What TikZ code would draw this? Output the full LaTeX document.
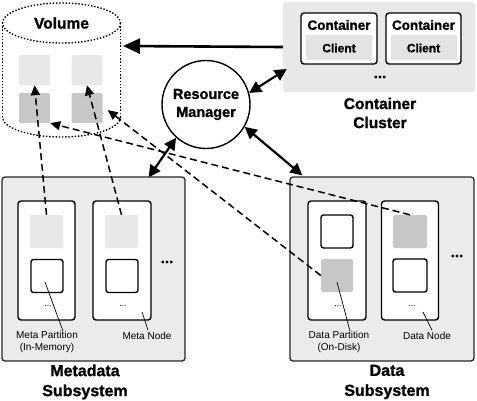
\documentclass[tikz,border=0pt]{standalone}
\usepackage{fontspec}
\setmainfont{Liberation Sans}[BoldFeatures={FakeBold=1.2}]
\usetikzlibrary{arrows.meta}
\begin{document}
\begin{tikzpicture}[x=1pt,y=-1pt,
  panel/.style={fill=black!8, draw=black!85, rounded corners=3pt, line width=1.3pt, inner sep=0pt},
  clusterbox/.style={fill=black!9, rounded corners=3pt, inner sep=0pt},
  nodebox/.style={fill=white, draw=black, rounded corners=3pt, line width=1.4pt, inner sep=0pt},
  lightsq/.style={fill=black!9, rounded corners=1.5pt, inner sep=0pt, minimum width=33pt, minimum height=33pt},
  darksq/.style={fill=black!22, rounded corners=1.5pt, inner sep=0pt, minimum width=32pt, minimum height=33pt},
  outsq/.style={fill=white, draw=black, rounded corners=2.5pt, line width=1.4pt, inner sep=0pt, minimum width=32pt, minimum height=33pt},
  volsq/.style={rounded corners=1.5pt, inner sep=0pt, minimum width=31pt, minimum height=30pt},
  dotline/.style={line width=1.4pt, dash pattern=on 1.4pt off 1.8pt},
  dasharrow/.style={line width=1.5pt, dash pattern=on 7pt off 4pt, -{Triangle[length=10pt,width=9pt]}},
  dblarrow/.style={line width=2.2pt, {Triangle[length=12pt,width=12pt]}-{Triangle[length=12pt,width=12pt]}},
  bigarrow/.style={line width=2.6pt, -{Triangle[length=17pt,width=15pt]}},
  leader/.style={line width=0.7pt},
  txt/.style={inner sep=0pt, align=center},
  bigtxt/.style={txt, font=\fontsize{15.5}{19}\selectfont\bfseries},
  subtxt/.style={txt, font=\fontsize{16}{20}\selectfont\bfseries},
  smalltxt/.style={txt, font=\fontsize{10}{12}\selectfont},
  tinydots/.style={txt, font=\fontsize{8.5}{9}\selectfont},
  bigdots/.style={txt, font=\fontsize{15}{15}\selectfont\bfseries}
]
\useasboundingbox (0,0) rectangle (477,400);

% ---------------- Volume cylinder ----------------
\draw[dotline] (61.5,23) ellipse [x radius=59, y radius=20];
\draw[dotline] (2.5,23) -- (2.5,117);
\draw[dotline] (120.5,23) -- (120.5,117);
\begin{scope}
  \clip (-5,117) rectangle (130,145);
  \draw[dotline] (61.5,117) ellipse [x radius=59, y radius=20];
\end{scope}
\node[bigtxt] (vol) at (61.5,23) {Volume};
\coordinate (volR) at (123,46);
\node[volsq, fill=black!9] (vl1) at (34.5,70) {};
\node[volsq, fill=black!9] (vl2) at (87,70) {};
\node[volsq, fill=black!22] (vd1) at (34.5,108) {};
\node[volsq, fill=black!22] (vd2) at (87,108) {};

% ---------------- Container cluster ----------------
\node[clusterbox, minimum width=192pt, minimum height=90pt] (cluster) at (379,47) {};
\node[nodebox, minimum width=76pt, minimum height=51pt] (cont1) at (339,38.5) {};
\node[nodebox, minimum width=75pt, minimum height=51pt] (cont2) at (423.5,38.5) {};
\node[fill=black!11, inner sep=0pt, minimum width=66pt, minimum height=25pt] (client1) at (339,47.5) {};
\node[fill=black!11, inner sep=0pt, minimum width=66pt, minimum height=25pt] (client2) at (423.5,47.5) {};
\node[txt, font=\fontsize{13.5}{13}\selectfont\bfseries] (ct1) at (339,25) {Container};
\node[txt, font=\fontsize{13.5}{13}\selectfont\bfseries] (ct2) at (423.5,25) {Container};
\node[txt, font=\fontsize{12}{12}\selectfont\bfseries] (cl1) at (339,48) {Client};
\node[txt, font=\fontsize{12}{12}\selectfont\bfseries] (cl2) at (423.5,48) {Client};
\node[bigdots] (cdots) at (380,77) {...};
\node[bigtxt] (clusterlbl) at (380,113) {Container\\Cluster};

% ---------------- Resource manager ----------------
\node[circle, draw=black, line width=1.4pt, fill=white, minimum size=88pt, inner sep=0pt,
      align=center, font=\fontsize{14.5}{18}\selectfont\bfseries] (rm) at (206,104.5) {Resource\\Manager};

% ---------------- Metadata subsystem ----------------
\node[panel, minimum width=183pt, minimum height=184pt] (meta) at (93.5,269) {};
\node[nodebox, minimum width=57pt, minimum height=119pt] (mnode1) at (46.5,260.5) {};
\node[nodebox, minimum width=58pt, minimum height=119pt] (mnode2) at (122,260.5) {};
\node[lightsq] (ml1) at (46.5,231.5) {};
\node[lightsq] (ml2) at (121.5,231.5) {};
\node[outsq] (mo1) at (47,276) {};
\node[outsq] (mo2) at (122,276) {};
\node[tinydots] (md1) at (48,306) {...};
\node[tinydots] (md2) at (123,306) {...};
\node[bigdots] (mdots) at (167,262) {...};
\node[smalltxt] (mpl) at (47,342) {Meta Partition\\(In-Memory)};
\node[smalltxt] (mnl) at (147,336) {Meta Node};
\node[subtxt] (metalbl) at (85,382) {Metadata\\Subsystem};
\draw[leader] ([shift={(-2,6)}]mo1.center) -- ([shift={(16,0)}]mpl.north);
\draw[leader] ([shift={(20,51.5)}]mnode2.center) -- ([shift={(1,-2)}]mnl.north);

% ---------------- Data subsystem ----------------
\node[panel, minimum width=184pt, minimum height=184pt] (data) at (382,269) {};
\node[nodebox, minimum width=58pt, minimum height=119pt] (dnode1) at (337,260.5) {};
\node[nodebox, minimum width=57pt, minimum height=119pt] (dnode2) at (410,260.5) {};
\node[outsq] (do1) at (337,231.5) {};
\node[darksq] (dg1) at (337,275.5) {};
\node[darksq, minimum width=34pt] (dg2) at (410,231.5) {};
\node[outsq, minimum width=34pt] (do2) at (410,275.5) {};
\node[tinydots] (dd1) at (338,306) {...};
\node[tinydots] (dd2) at (412,306) {...};
\node[bigdots] (ddots) at (457,256) {...};
\node[smalltxt] (dpl) at (339,342) {Data Partition\\(On-Disk)};
\node[smalltxt] (dnl) at (427,336) {Data Node};
\node[subtxt] (datalbl) at (387,382) {Data\\Subsystem};
\draw[leader] ([shift={(0,6.5)}]dg1.center) -- ([shift={(11,0)}]dpl.north);
\draw[leader] ([shift={(13,51.5)}]dnode2.center) -- ([shift={(5,-2)}]dnl.north);

% ---------------- Connectors ----------------
\draw[bigarrow] (cluster.west) -- (volR);
\draw[dblarrow] (rm.15) -- ([shift={(4,22)}]cluster.west);
\draw[dblarrow] (rm.228) -- ([shift={(-37,1)}]meta.north east);
\draw[dblarrow] (rm.330) -- ([shift={(13,-1)}]data.north west);

\draw[dasharrow] (ml1.north) -- (vl1.south);
\draw[dasharrow] (ml2.north) -- (vl2.south);
\draw[dasharrow] (dg1.west) -- ([shift={(5,2)}]vd2.east);
\draw[dasharrow] (dg2.north) -- (vd1.south east);
\end{tikzpicture}
\end{document}
